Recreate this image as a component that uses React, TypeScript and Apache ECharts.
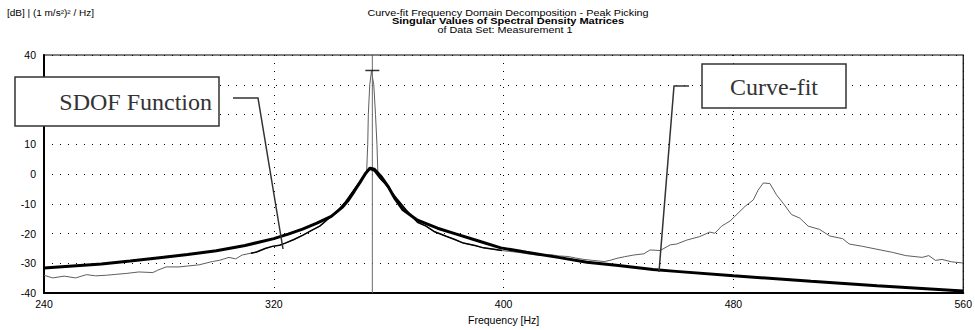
import React, { useEffect, useRef } from "react";
import * as echarts from "echarts";

// Measured first singular value (grey) — frequency [Hz] and level [dB]
const measuredFreq = [
  240, 243, 247, 251, 254.8, 258, 261.7, 265, 268.6, 273, 277.9, 279.6, 282.5, 287, 290, 294, 298.6, 301,
  304.4, 306.7, 309, 312, 314, 317, 319.5, 322, 324, 327, 330, 333, 336, 339, 342, 345, 348, 350, 351.5,
  352.3, 352.7, 352.9, 353.4, 354.0, 354.8, 355.4, 355.9, 356.2, 357, 359, 361, 363, 366, 370, 373, 376,
  380, 383, 386, 390, 393, 396, 399.4, 402, 405, 409, 413, 416.6, 419, 422.4, 425, 428, 431, 435, 437,
  439.5, 442, 445.3, 448.8, 451, 454.5, 458, 460.3, 463.7, 468.3, 471.8, 473.5, 475.9, 478.8, 480.5, 484,
  486.9, 488.6, 490.4, 492.7, 495, 497.3, 500.2, 503.1, 506, 510, 513.5, 518, 520.3, 525, 529.6, 535.3,
  540, 545.7, 548, 550.3, 552.6, 556, 560,
];
const measuredDb = [
  -34.0, -34.9, -34.3, -34.9, -33.8, -34.2, -34.0, -33.7, -33.4, -32.9, -33.1, -32.3, -31.2, -31.2, -30.9,
  -30.5, -29.4, -29.0, -28.0, -28.5, -27.2, -26.6, -26.2, -25.0, -24.3, -23.9, -23.2, -22.0, -20.6, -19.0,
  -17.5, -15.0, -12.6, -9.3, -5.2, -2.5, -0.3, 0.5, 10, 20, 30, 34.6, 30, 20, 10, 1.0, -1.5, -3.5, -6.0,
  -8.5, -12.0, -16.2, -17.5, -19.4, -20.9, -22.0, -23.2, -24.0, -24.8, -25.2, -25.7, -26.0, -26.3, -26.9,
  -27.4, -27.1, -27.5, -27.7, -28.2, -28.7, -29.0, -29.4, -29.0, -28.3, -27.8, -27.2, -26.8, -25.5, -25.7,
  -23.8, -23.5, -22.2, -21.0, -19.5, -19.9, -17.5, -15.8, -14.2, -10.9, -8.7, -5.4, -3.0, -3.2, -7.0, -9.8,
  -13.6, -14.8, -17.5, -18.6, -20.8, -21.7, -23.5, -24.3, -25.2, -26.3, -27.4, -28.0, -27.4, -29.0, -28.7,
  -29.5, -29.9,
];

// SDOF function (thin black) — the identified bell around the peak
const sdofFreq = [
  312, 314, 317, 319.5, 322, 324, 327, 330, 333, 336, 339, 342, 345, 348, 350, 352, 353.5, 355, 357, 359,
  361, 363, 366, 370, 373, 376, 380, 383, 386, 390, 393, 396, 399.4,
];
const sdofDb = [
  -26.6, -26.2, -25.0, -24.3, -23.9, -23.2, -22.0, -20.6, -19.0, -17.5, -15.0, -12.6, -9.3, -5.2, -2.5, 0.2,
  1.6, 1.0, -1.5, -3.5, -6.0, -8.5, -12.0, -16.2, -17.5, -19.4, -20.9, -22.0, -23.2, -24.0, -24.8, -25.2,
  -25.7,
];

// Curve-fit (thick black)
const fitFreq = [
  240, 250, 260, 270, 281, 290, 300, 310, 320, 325, 330, 335, 340, 344, 346, 348, 350, 352, 353.5, 355,
  357.5, 360, 362, 365, 370, 377, 383, 391, 399, 408, 419, 429, 440, 452, 460, 480, 507, 530, 560,
];
const fitDb = [
  -31.6, -30.9, -30.2, -29.2, -28.0, -27.0, -25.8, -24.0, -21.7, -20.2, -18.5, -16.5, -14.2, -11.0, -8.7,
  -5.8, -2.8, 0.3, 2.0, 1.6, -1.0, -4.5, -8.0, -12.0, -15.5, -18.2, -20.0, -22.4, -24.8, -26.3, -28.0, -29.6,
  -30.7, -32.1, -32.7, -34.2, -36.0, -37.5, -39.3,
];

// Peak picked
const peakFreq = 354.3;
const peakDb = 34.8;

const titleLines = [
  "Curve-fit Frequency Domain Decomposition - Peak Picking",
  "Singular Values of Spectral Density Matrices",
  "of Data Set: Measurement 1",
];
const yUnit = "[dB] | (1 m/s²)² / Hz]";
const xName = "Frequency [Hz]";
const notes = ["SDOF Function", "Curve-fit"];

const zip = (xs: number[], ys: number[]) => xs.map((x, i) => [x, ys[i]]);

export default function App() {
  const ref = useRef<HTMLDivElement>(null);
  useEffect(() => {
    if (!ref.current) return;
    const chart = echarts.init(ref.current, null, { renderer: "svg" });
    const sans = "'Liberation Sans', Arial, sans-serif";
    const serif = "'Liberation Serif', 'Times New Roman', serif";
    const dotted = { color: "#000", width: 1, type: [1, 7] as any };
    const titleY = [12.5, 21, 29.5];
    chart.setOption({
      animation: false,
      backgroundColor: "#fff",
      grid: {
        left: 44,
        right: 8,
        top: 55,
        bottom: 32,
        show: true,
        borderColor: "#000",
        borderWidth: 1.2,
        backgroundColor: "transparent",
      },
      xAxis: {
        type: "value",
        min: 240,
        max: 560,
        interval: 80,
        name: xName,
        nameLocation: "middle",
        nameGap: 19,
        nameTextStyle: { fontFamily: sans, fontSize: 10.5, color: "#000" },
        axisLine: { show: true, onZero: false, lineStyle: { color: "#000", width: 2 } },
        axisTick: { show: false },
        axisLabel: { fontFamily: sans, fontSize: 10.5, color: "#000", margin: 5 },
        splitLine: { show: true, lineStyle: dotted },
      },
      yAxis: {
        type: "value",
        min: -40,
        max: 40,
        interval: 10,
        axisLine: { show: true, onZero: false, lineStyle: { color: "#000", width: 2 } },
        axisTick: { show: false },
        axisLabel: { fontFamily: sans, fontSize: 10.5, color: "#000", margin: 8 },
        splitLine: { show: true, lineStyle: dotted },
      },
      series: [
        {
          type: "line",
          name: "Measured",
          data: zip(measuredFreq, measuredDb),
          showSymbol: false,
          lineStyle: { color: "#5e5e5e", width: 1 },
          z: 2,
        },
        {
          type: "line",
          name: "Peak",
          data: [
            [peakFreq, -40],
            [peakFreq, 40],
          ],
          showSymbol: false,
          lineStyle: { color: "#6a6a6a", width: 1 },
          z: 3,
        },
        {
          type: "line",
          name: "Curve-fit",
          data: zip(fitFreq, fitDb),
          showSymbol: false,
          lineStyle: { color: "#000", width: 3 },
          z: 4,
        },
        {
          type: "line",
          name: "SDOF Function",
          data: zip(sdofFreq, sdofDb),
          showSymbol: false,
          lineStyle: { color: "#000", width: 1.5 },
          z: 5,
        },
        {
          type: "scatter",
          name: "Peak marker",
          data: [[peakFreq, peakDb]],
          symbol: "rect",
          symbolSize: [14, 1.5],
          itemStyle: { color: "#000" },
          z: 6,
        },
      ],
      graphic: [
        {
          type: "text",
          x: 7,
          y: 13,
          scaleY: 0.85,
          z: 100,
          style: { text: yUnit, font: `10px ${sans}`, fill: "#000", textVerticalAlign: "middle" },
        },
        {
          type: "text",
          x: 508,
          y: titleY[0],
          scaleY: 0.8,
          z: 100,
          style: { text: titleLines[0], font: `10.8px ${sans}`, fill: "#000", textAlign: "center", textVerticalAlign: "middle" },
        },
        {
          type: "text",
          x: 508,
          y: titleY[1],
          scaleY: 0.8,
          z: 100,
          style: { text: titleLines[1], font: `bold 11px ${sans}`, fill: "#000", textAlign: "center", textVerticalAlign: "middle" },
        },
        {
          type: "text",
          x: 505,
          y: titleY[2],
          scaleY: 0.8,
          z: 100,
          style: { text: titleLines[2], font: `10.8px ${sans}`, fill: "#000", textAlign: "center", textVerticalAlign: "middle" },
        },
        {
          type: "rect",
          z: 100,
          shape: { x: 15, y: 77, width: 204, height: 49 },
          style: { fill: "#fff", stroke: "#333", lineWidth: 1.5 },
        },
        {
          type: "text",
          x: 212,
          y: 102,
          z: 101,
          style: { text: notes[0], font: `24px ${serif}`, fill: "#333", textAlign: "right", textVerticalAlign: "middle" },
        },
        {
          type: "polyline",
          z: 100,
          shape: { points: [[233, 98], [258, 98], [283, 249]] },
          style: { stroke: "#333", lineWidth: 1.5, fill: "none" },
        },
        {
          type: "rect",
          z: 100,
          shape: { x: 702, y: 64, width: 144, height: 44 },
          style: { fill: "#fff", stroke: "#333", lineWidth: 1.5 },
        },
        {
          type: "text",
          x: 774,
          y: 87,
          z: 101,
          style: { text: notes[1], font: `24px ${serif}`, fill: "#333", textAlign: "center", textVerticalAlign: "middle" },
        },
        {
          type: "polyline",
          z: 100,
          shape: { points: [[689, 86], [674, 86], [659, 272]] },
          style: { stroke: "#333", lineWidth: 1.5, fill: "none" },
        },
      ],
    });
    return () => chart.dispose();
  }, []);
  return (
    <div
      ref={ref}
      style={{ position: "absolute", left: 0, top: 0, width: 975, height: 330, background: "#fff" }}
    />
  );
}
